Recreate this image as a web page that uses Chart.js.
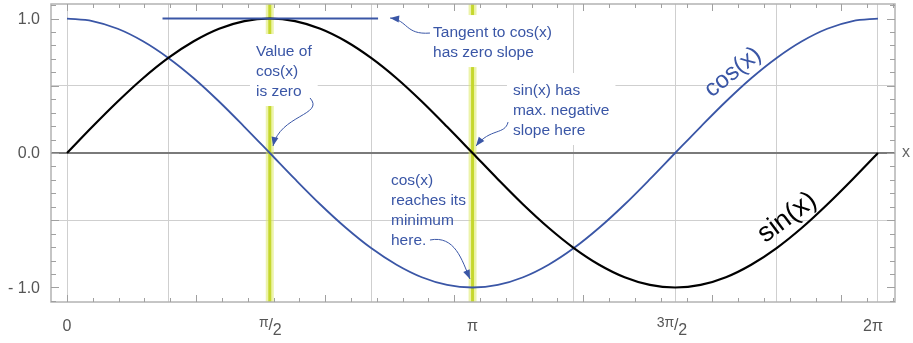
<!DOCTYPE html>
<html>
<head>
<meta charset="utf-8">
<script src="https://cdn.jsdelivr.net/npm/chart.js@4.4.1/dist/chart.umd.min.js"></script>
<style>
  html, body { margin: 0; padding: 0; background: #fff; }
  #wrap { width: 913px; height: 343px; }
</style>
</head>
<body>
<div id="wrap"><canvas id="trig"></canvas></div>
<script>
// sample points, step pi/16
var xs = [0.000, 0.196, 0.393, 0.589, 0.785, 0.982, 1.178, 1.374, 1.571, 1.767, 1.963,
          2.160, 2.356, 2.553, 2.749, 2.945, 3.142, 3.338, 3.534, 3.731, 3.927, 4.123,
          4.320, 4.516, 4.712, 4.909, 5.105, 5.301, 5.498, 5.694, 5.890, 6.087, 6.283];
var sinValues = [0.000, 0.195, 0.383, 0.556, 0.707, 0.831, 0.924, 0.981, 1.000, 0.981, 0.924,
                 0.831, 0.707, 0.556, 0.383, 0.195, 0.000, -0.195, -0.383, -0.556, -0.707, -0.831,
                 -0.924, -0.981, -1.000, -0.981, -0.924, -0.831, -0.707, -0.556, -0.383, -0.195, 0.000];
var cosValues = [1.000, 0.981, 0.924, 0.831, 0.707, 0.556, 0.383, 0.195, 0.000, -0.195, -0.383,
                 -0.556, -0.707, -0.831, -0.924, -0.981, -1.000, -0.981, -0.924, -0.831, -0.707, -0.556,
                 -0.383, -0.195, 0.000, 0.195, 0.383, 0.556, 0.707, 0.831, 0.924, 0.981, 1.000];

// flat tangent segment through the peak at pi/2
var tangentX = [0.74, 2.41];
var tangentY = [1, 1];

var gridX = [0, 0.785, 1.571, 2.356, 3.142, 3.927, 4.712, 5.498, 6.283];
var gridY = [-0.5, 0, 0.5];
var xTickValues = [0, 1.571, 3.142, 4.712, 6.283];
var xTickLabels = ['0', 'π/2', 'π', '3π/2', '2π'];
var yTickValues = [1, 0, -1];
var yTickLabels = ['1.0', '0.0', '- 1.0'];

var bandX = [1.571, 3.142];

var notes = [
  { x: 1.464, y: 0.751, lines: ['Value of', 'cos(x)', 'is zero'], box: true },
  { x: 2.836, y: 0.892, lines: ['Tangent to cos(x)', 'has zero slope'], box: true },
  { x: 3.455, y: 0.461, lines: ['sin(x) has', 'max. negative', 'slope here'], box: true },
  { x: 2.510, y: -0.208, lines: ['cos(x)', 'reaches its', 'minimum', 'here.'], box: false }
];

// curved pointers: start, control 1, control 2, tip
var arrows = [
  [[2.812, 0.892], [2.619, 0.877], [2.642, 0.989], [2.503, 1.004]],
  [[1.883, 0.409], [1.999, 0.283], [1.650, 0.283], [1.596, 0.052]],
  [[3.417, 0.230], [3.394, 0.134], [3.277, 0.186], [3.169, 0.052]],
  [[2.812, -0.647], [3.006, -0.610], [3.060, -0.796], [3.122, -0.937]]
];

var curveLabels = [
  { text: 'cos(x)', x: 5.16, y: 0.60, angle: -39, size: 24, color: '#3a56a6' },
  { text: 'sin(x)', x: 5.58, y: -0.48, angle: -37, size: 27, color: '#000' }
];

var BLUE = '#3a56a6';
var FONT = '"Liberation Sans", Arial, Helvetica, sans-serif';
var NOTE_FONT = '15.5px ' + FONT;

function points(xv, yv) {
  return xv.map(function (x, i) { return { x: x, y: yv[i] }; });
}

var decorations = {
  id: 'decorations',
  beforeDatasetsDraw: function (chart) {
    var ctx = chart.ctx, a = chart.chartArea;
    var sx = chart.scales.x, sy = chart.scales.y;
    ctx.save();
    ctx.beginPath();
    ctx.rect(a.left, a.top, a.right - a.left, a.bottom - a.top);
    ctx.clip();

    // highlight bands
    bandX.forEach(function (b) {
      var X = sx.getPixelForValue(b);
      ctx.strokeStyle = 'rgba(220,234,100,0.55)';
      ctx.lineWidth = 8;
      ctx.beginPath(); ctx.moveTo(X, a.top); ctx.lineTo(X, a.bottom); ctx.stroke();
      ctx.strokeStyle = 'rgba(196,214,40,0.95)';
      ctx.lineWidth = 3;
      ctx.beginPath(); ctx.moveTo(X, a.top); ctx.lineTo(X, a.bottom); ctx.stroke();
    });

    // white backing behind the notes
    ctx.font = NOTE_FONT;
    notes.forEach(function (n) {
      if (!n.box) return;
      var L = sx.getPixelForValue(n.x), T = sy.getPixelForValue(n.y);
      var w = Math.max.apply(null, n.lines.map(function (s) { return ctx.measureText(s).width; }));
      ctx.fillStyle = '#fff';
      ctx.fillRect(L - 6, T - 18, w + 12, (n.lines.length - 1) * 20 + 32);
    });
    ctx.restore();

    // frame and ticks
    ctx.save();
    ctx.strokeStyle = '#b3b3b3';
    ctx.lineWidth = 1.5;
    ctx.strokeRect(a.left, a.top, a.right - a.left, a.bottom - a.top);
    ctx.strokeStyle = '#a0a0a0';
    ctx.lineWidth = 1;
    ctx.beginPath();
    for (var k = -11; k <= 11; k++) {
      var Y = Math.round(sy.getPixelForValue(k / 10)) + 0.5;
      var len = (k % 5 === 0) ? 8 : 5;
      ctx.moveTo(a.left, Y); ctx.lineTo(a.left + len, Y);
      ctx.moveTo(a.right, Y); ctx.lineTo(a.right - len, Y);
    }
    for (var j = 0; j <= 32; j++) {
      var v = j * 0.2;
      if (v > sx.max) break;
      var X = Math.round(sx.getPixelForValue(v)) + 0.5;
      var l2 = (j % 5 === 0) ? 7 : 4;
      ctx.moveTo(X, a.bottom); ctx.lineTo(X, a.bottom - l2);
      ctx.moveTo(X, a.top); ctx.lineTo(X, a.top + l2);
    }
    ctx.stroke();
    ctx.restore();
  },
  afterDatasetsDraw: function (chart) {
    var ctx = chart.ctx, a = chart.chartArea;
    var sx = chart.scales.x, sy = chart.scales.y;
    function P(p) { return [sx.getPixelForValue(p[0]), sy.getPixelForValue(p[1])]; }
    ctx.save();

    // note text
    ctx.font = NOTE_FONT;
    ctx.fillStyle = BLUE;
    ctx.textBaseline = 'middle';
    ctx.textAlign = 'left';
    notes.forEach(function (n) {
      var L = sx.getPixelForValue(n.x), T = sy.getPixelForValue(n.y);
      n.lines.forEach(function (s, i) { ctx.fillText(s, L, T + i * 20); });
    });

    // pointers
    ctx.strokeStyle = BLUE;
    ctx.lineWidth = 1;
    arrows.forEach(function (ar) {
      var p0 = P(ar[0]), p1 = P(ar[1]), p2 = P(ar[2]), p3 = P(ar[3]);
      ctx.beginPath();
      ctx.moveTo(p0[0], p0[1]);
      ctx.bezierCurveTo(p1[0], p1[1], p2[0], p2[1], p3[0], p3[1]);
      ctx.stroke();
      var ang = Math.atan2(p3[1] - p2[1], p3[0] - p2[0]);
      ctx.beginPath();
      ctx.moveTo(p3[0], p3[1]);
      ctx.lineTo(p3[0] - 9 * Math.cos(ang) + 3.5 * Math.sin(ang), p3[1] - 9 * Math.sin(ang) - 3.5 * Math.cos(ang));
      ctx.lineTo(p3[0] - 9 * Math.cos(ang) - 3.5 * Math.sin(ang), p3[1] - 9 * Math.sin(ang) + 3.5 * Math.cos(ang));
      ctx.closePath();
      ctx.fillStyle = BLUE;
      ctx.fill();
    });

    // labels along the curves
    curveLabels.forEach(function (c) {
      var p = P([c.x, c.y]);
      ctx.save();
      ctx.translate(p[0], p[1]);
      ctx.rotate(c.angle * Math.PI / 180);
      ctx.font = c.size + 'px ' + FONT;
      ctx.fillStyle = c.color;
      ctx.textAlign = 'center';
      ctx.textBaseline = 'middle';
      ctx.fillText(c.text, 0, 0);
      ctx.restore();
    });

    // y tick labels
    ctx.fillStyle = '#555';
    ctx.font = '16px ' + FONT;
    ctx.textAlign = 'right';
    ctx.textBaseline = 'middle';
    yTickValues.forEach(function (v, i) {
      ctx.fillText(yTickLabels[i], 40, sy.getPixelForValue(v) + 1);
    });

    // x tick labels, fractions set as num / den
    xTickValues.forEach(function (v, i) {
      var X = sx.getPixelForValue(v);
      var s = xTickLabels[i];
      var parts = s.split('/');
      ctx.textBaseline = 'alphabetic';
      if (parts.length === 1) {
        ctx.font = '16px ' + FONT;
        ctx.textAlign = 'center';
        ctx.fillText(s, X - (v > 6 ? 5 : 0), 331);
      } else {
        ctx.font = '14px ' + FONT;
        ctx.textAlign = 'right';
        ctx.fillText(parts[0], X - 1, 327);
        ctx.font = '16px ' + FONT;
        ctx.textAlign = 'center';
        ctx.fillText('/', X + 1, 330);
        ctx.textAlign = 'left';
        ctx.fillText(parts[1], X + 3, 335);
      }
    });

    // axis name
    ctx.font = '16px ' + FONT;
    ctx.fillStyle = '#666';
    ctx.textAlign = 'left';
    ctx.textBaseline = 'middle';
    ctx.fillText('x', a.right + 7, sy.getPixelForValue(0));
    ctx.restore();
  }
};

var ctx = document.getElementById('trig').getContext('2d');
var chart = new Chart(ctx, {
  type: 'line',
  data: {
    datasets: [{
      label: 'tangent',
      data: points(tangentX, tangentY),
      borderColor: BLUE,
      borderWidth: 2
    }, {
      label: 'sin(x)',
      data: points(xs, sinValues),
      borderColor: '#000',
      borderWidth: 2.2,
      cubicInterpolationMode: 'monotone'
    }, {
      label: 'cos(x)',
      data: points(xs, cosValues),
      borderColor: BLUE,
      borderWidth: 1.8,
      cubicInterpolationMode: 'monotone'
    }]
  },
  options: {
    responsive: true,
    maintainAspectRatio: false,
    animation: false,
    events: [],
    elements: { point: { radius: 0 } },
    layout: { padding: { top: 4, right: 18, left: 0, bottom: 0 } },
    plugins: { legend: { display: false }, tooltip: { enabled: false } },
    scales: {
      x: {
        type: 'linear',
        min: -0.124,
        max: 6.415,
        afterBuildTicks: function (s) { s.ticks = gridX.map(function (v) { return { value: v }; }); },
        afterFit: function (s) { s.height = 41; },
        ticks: { display: false },
        border: { display: false },
        grid: { color: '#cfcfcf', lineWidth: 1, drawTicks: false }
      },
      y: {
        min: -1.108,
        max: 1.108,
        afterBuildTicks: function (s) { s.ticks = gridY.map(function (v) { return { value: v }; }); },
        afterFit: function (s) { s.width = 51; },
        ticks: { display: false },
        border: { display: false },
        grid: {
          drawTicks: false,
          color: function (c) { return c.tick && c.tick.value === 0 ? '#7a7a7a' : '#cfcfcf'; },
          lineWidth: function (c) { return c.tick && c.tick.value === 0 ? 2 : 1; }
        }
      }
    }
  },
  plugins: [decorations]
});
</script>
</body>
</html>
